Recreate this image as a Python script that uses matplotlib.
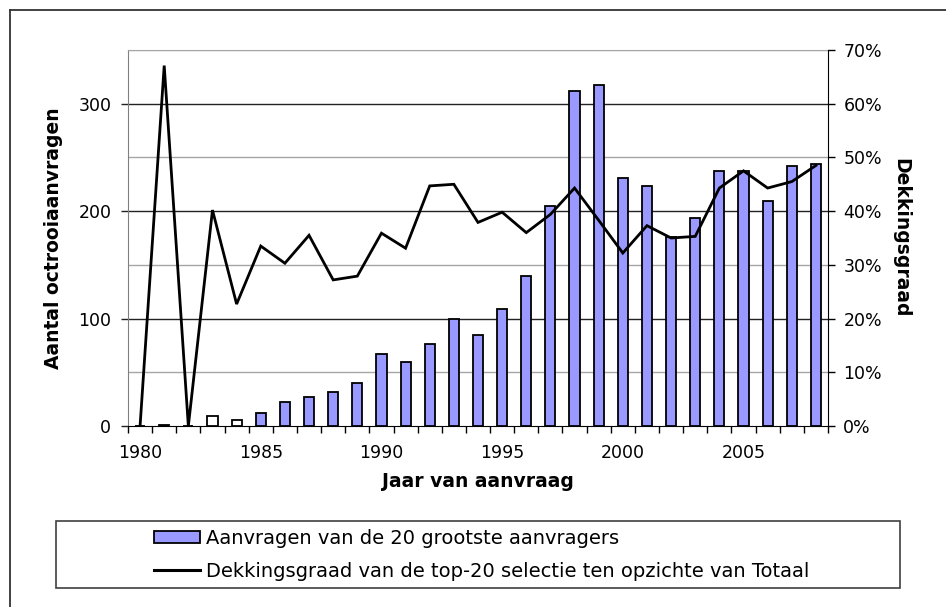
import matplotlib
matplotlib.use("Agg")
import matplotlib.pyplot as plt
from matplotlib.patches import Rectangle, Patch
from matplotlib.lines import Line2D
from matplotlib.ticker import FuncFormatter

# data
jaren = list(range(1980, 2009))
aanvragen = [0, 1, 0, 9, 6, 12, 22, 27, 32, 40, 67, 60, 76, 100, 85,
             109, 140, 205, 312, 317, 231, 223, 176, 194, 237, 237, 209, 242, 244]
dekking = [0.0, 0.671, 0.0, 0.402, 0.227, 0.335, 0.303, 0.355, 0.272, 0.279,
           0.359, 0.331, 0.447, 0.450, 0.379, 0.398, 0.360, 0.394, 0.443,
           0.383, 0.322, 0.373, 0.350, 0.353, 0.443, 0.475, 0.443, 0.455, 0.485]
label_jaren = [1980, 1985, 1990, 1995, 2000, 2005]
links_ticks = [0, 100, 200, 300]
rechts_ticks = [0.0, 0.1, 0.2, 0.3, 0.4, 0.5, 0.6, 0.7]

W, H = 946, 607
fig = plt.figure(figsize=(W / 100, H / 100), dpi=100)
plt.rcParams['font.family'] = ['DejaVu Sans']

ax = fig.add_axes([128 / W, 1 - 426 / H, 700 / W, 376 / H])
ax2 = ax.twinx()

pos = list(range(len(jaren)))
kleuren = ['white' if j < 1985 else '#9999ff' for j in jaren]
ax.bar(pos, aanvragen, width=0.42, color=kleuren, edgecolor='black',
       linewidth=1.3, zorder=3)

ymax = 350
ax.set_ylim(0, ymax)
ax.set_xlim(-0.5, len(jaren) - 0.5)
ax2.set_ylim(0, 0.7)

# gridlines: black on the left ticks, grey on the odd percentages
for t in links_ticks[1:]:
    ax.axhline(t, color='#222222', lw=1.0, zorder=1)
for p in rechts_ticks[1::2]:
    ax.axhline(p / 0.7 * ymax, color='#a6a6a6', lw=1.0, zorder=1)

ax2.plot(pos, dekking, color='black', lw=2.0, solid_joinstyle='miter', zorder=4)

# x axis: labels at category centres, tick marks between categories
ax.set_xticks([jaren.index(j) for j in label_jaren])
ax.set_xticklabels([str(j) for j in label_jaren])
ax.set_xticks([i - 0.5 for i in range(len(jaren) + 1)], minor=True)
ax.tick_params(axis='x', which='major', length=0, pad=13, labelsize=12.5)
ax.tick_params(axis='x', which='minor', length=5, width=1, direction='out')

ax.set_yticks(links_ticks)
ax.tick_params(axis='y', length=5, width=1, direction='out', pad=7,
               labelsize=12.5, color='#222222')
ax2.set_yticks(rechts_ticks)
ax2.yaxis.set_major_formatter(FuncFormatter(lambda v, _: f"{v * 100:.0f}%"))
ax2.tick_params(axis='y', length=5, width=1, direction='out', pad=6,
                labelsize=12.5)

ax.spines['right'].set_visible(False)
ax.spines['left'].set_color('#808080')
ax.spines['top'].set_color('#a6a6a6')
ax.spines['bottom'].set_color('black')
for s in ['left', 'top', 'bottom']:
    ax2.spines[s].set_visible(False)
ax2.spines['right'].set_color('black')

ax.set_xlabel('Jaar van aanvraag', fontsize=13.5, fontweight='bold', labelpad=7)
ax.set_ylabel('Aantal octrooiaanvragen', fontsize=13.5, fontweight='bold', labelpad=11)
ax2.set_ylabel('Dekkingsgraad', fontsize=13.5, fontweight='bold', rotation=270,
               labelpad=20)

# legend box below the chart
fig.patches.append(Rectangle((56 / W, 1 - 588 / H), (900 - 56) / W, (588 - 521) / H,
                             transform=fig.transFigure, fill=False,
                             edgecolor='#404040', lw=1.2))
handles = [Patch(facecolor='#9999ff', edgecolor='black', lw=1.3),
           Line2D([0], [0], color='black', lw=2.2)]
fig.legend(handles,
           ['Aanvragen van de 20 grootste aanvragers',
            'Dekkingsgraad van de top-20 selectie ten opzichte van Totaal'],
           loc='upper left', bbox_to_anchor=(146 / W, 1 - 521 / H),
           frameon=False, fontsize=14, handlelength=2.4, handleheight=0.6,
           handletextpad=0.3, labelspacing=0.72, borderaxespad=0)

# outer chart border (top and left visible)
fig.add_artist(Line2D([10 / W, 1], [1 - 10 / H, 1 - 10 / H],
                      transform=fig.transFigure, color='#333333', lw=1.3))
fig.add_artist(Line2D([10 / W, 10 / W], [0, 1 - 10 / H],
                      transform=fig.transFigure, color='#333333', lw=1.3))

fig.savefig('out.png', dpi=100)
